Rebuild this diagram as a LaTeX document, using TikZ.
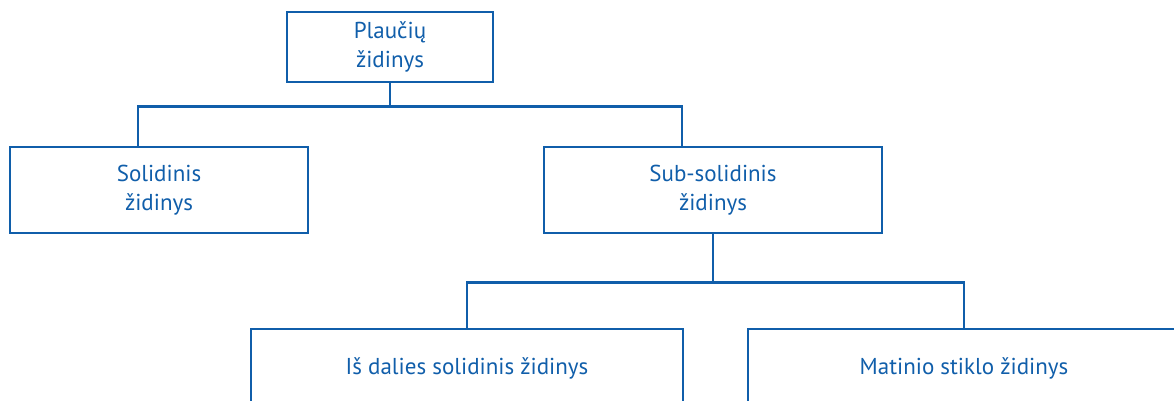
\documentclass[tikz,border=0pt]{standalone}
\usepackage{fontspec}
\setmainfont{PT Sans}
\definecolor{lungblue}{RGB}{16,94,170}

\begin{document}
\begin{tikzpicture}[x=1pt,y=-1pt,line width=2.8pt,
                    font=\fontsize{23}{29}\selectfont]
  \tikzstyle{box}=[draw=lungblue,text=lungblue,rectangle,align=center,inner sep=0pt]
  \tikzstyle{link}=[draw=lungblue,line width=2.5pt]

  \useasboundingbox (0,0) rectangle (1174,400);

  \node[box,minimum width=206pt,minimum height=70pt] (lung) at (390,47)  {Plaučių\\židinys};
  \node[box,minimum width=298pt,minimum height=86pt] (sol)  at (159,190) {Solidinis\\židinys};
  \node[box,minimum width=338pt,minimum height=86pt] (sub)  at (713,190) {Sub-solidinis\\židinys};
  \node[box,minimum width=432pt,minimum height=78pt] (part) at (467,368) {Iš dalies solidinis židinys};
  \node[box,minimum width=432pt,minimum height=78pt] (gg)   at (964,368) {Matinio stiklo židinys};

  \draw[link] (lung.south) -- ++(0,23) coordinate (busA);
  \draw[link] ([xshift=-21pt]sol.north) |- (busA) -| ([xshift=-31pt]sub.north);
  \draw[link] (sub.south) -- ++(0,48) coordinate (busB);
  \draw[link] (part.north) |- (busB) -| (gg.north);

\end{tikzpicture}
\end{document}
